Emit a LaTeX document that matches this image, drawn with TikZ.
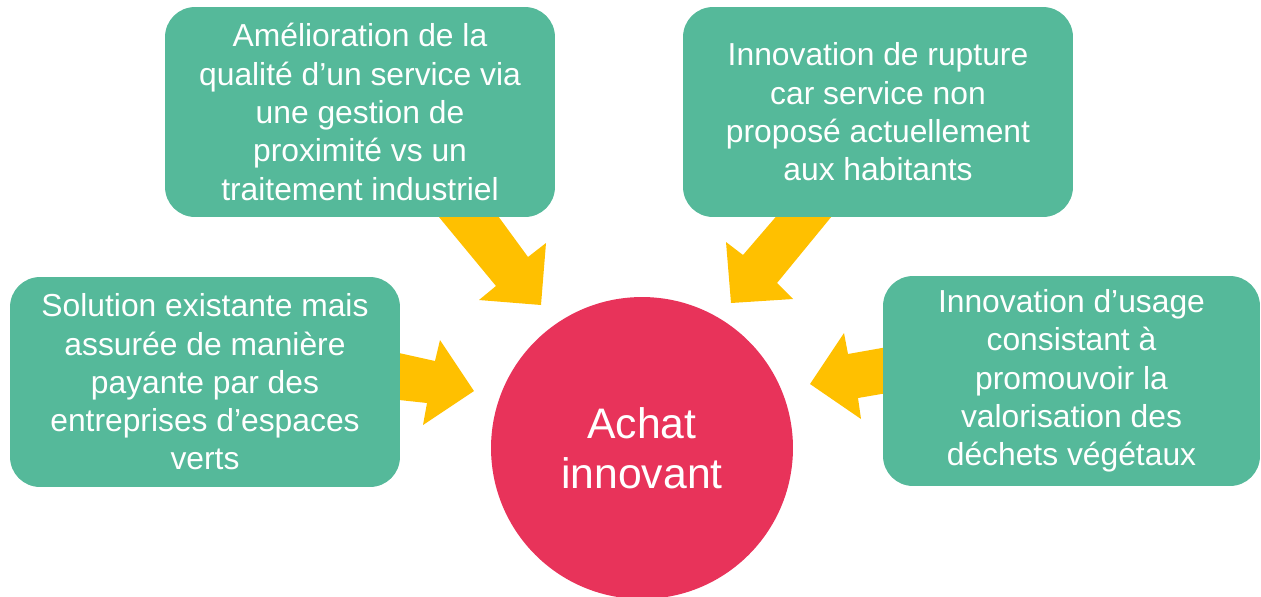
\documentclass[tikz,border=0pt]{standalone}
\usepackage{fontspec}
\setmainfont{Liberation Sans}
\definecolor{ideagreen}{HTML}{55B99A}
\definecolor{arrowyellow}{HTML}{FFC000}
\definecolor{achatred}{HTML}{E8335A}
\tikzset{
  idea/.style={fill=ideagreen, rounded corners=0.6cm, inner sep=0pt, minimum width=7.8cm, minimum height=4.2cm, align=center, text=white, font=\fontsize{18.1}{21.8}\selectfont},
  blockarrow/.style={fill=arrowyellow}
}

\begin{document}
\begin{tikzpicture}[x=0.02cm, y=-0.02cm]
    \useasboundingbox (0,0) rectangle (1261,596);
    \fill [blockarrow] (429,205) -- (496,286) -- (479,300) -- (541,305) -- (546,243) -- (528,257) -- (490,205) -- cycle;
    \fill [blockarrow] (841,205) -- (777,283) -- (793,299) -- (731,303) -- (726,242) -- (743,255) -- (786,205) -- cycle;
    \fill [blockarrow] (390,351) -- (435,361) -- (440,340) -- (474,391) -- (423,425) -- (427,403) -- (390,399) -- cycle;
    \fill [blockarrow] (893,346) -- (848,354) -- (844,333) -- (810,384) -- (861,419) -- (858,398) -- (893,392) -- cycle;
    \node [idea] (quality) at (360,112) {Amélioration de la\\qualité d’un service via\\une gestion de\\proximité vs un\\traitement industriel};
    \node [idea] (rupture) at (878,112) {Innovation de rupture\\car service non\\proposé actuellement\\aux habitants};
    \node [idea] (existing) at (205,382) {Solution existante mais\\assurée de manière\\payante par des\\entreprises d’espaces\\verts};
    \node [idea, minimum width=7.54cm] (usage) at (1071.5,381) {Innovation d’usage\\consistant à\\promouvoir la\\valorisation des\\déchets végétaux};
    \node [circle, fill=achatred, minimum size=6.04cm, inner sep=0pt, align=center, text=white, font=\fontsize{24.3}{28.5}\selectfont] (achat) at (642,448) {Achat\\innovant};
\end{tikzpicture}
\end{document}
